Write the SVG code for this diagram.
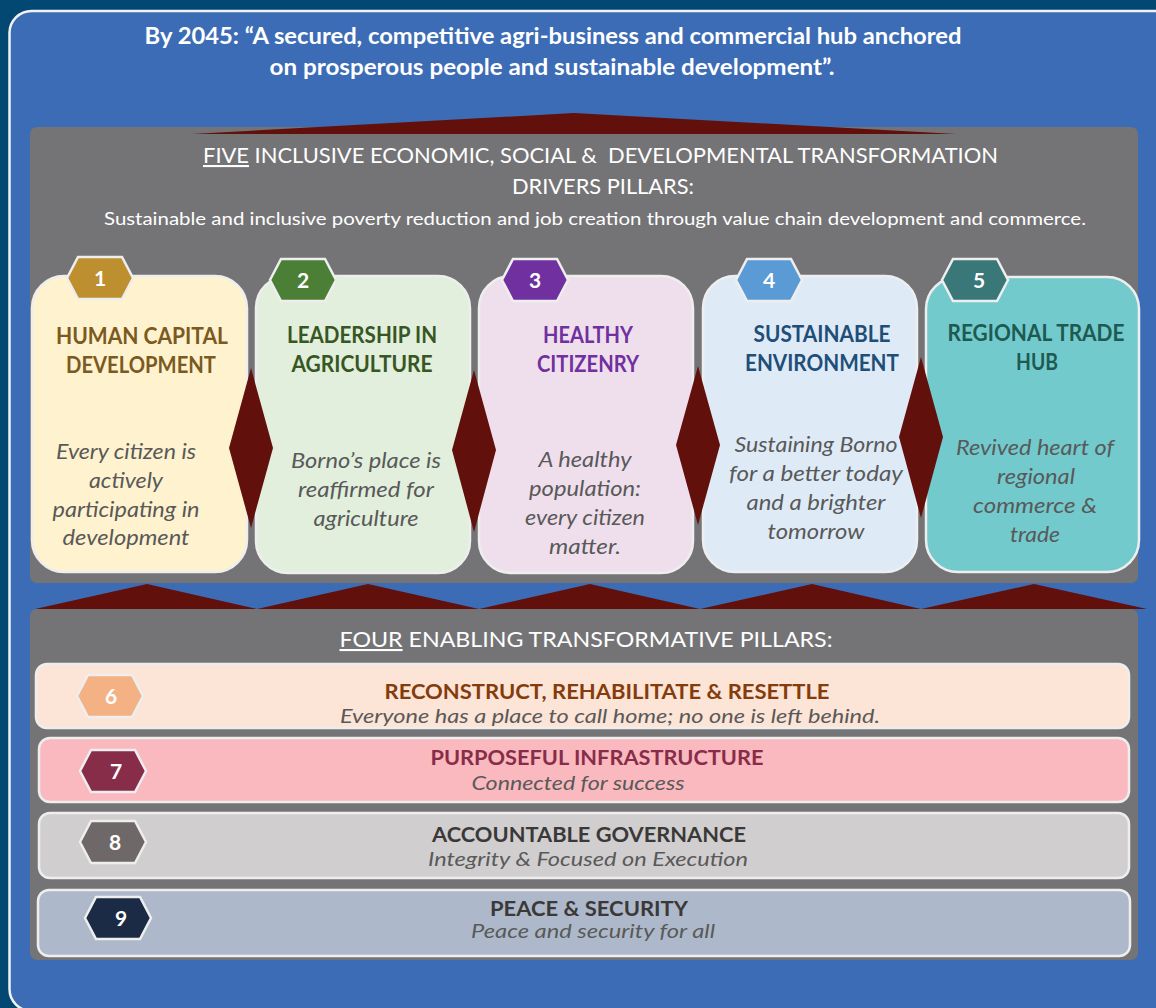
<svg xmlns="http://www.w3.org/2000/svg" width="1156" height="1008" viewBox="0 0 1156 1008">
  <defs>
    <style>
      .vision { font-family: Lato, "Open Sans", "Liberation Sans", sans-serif; font-size: 22px; font-weight: 700; fill: #ffffff; text-anchor: middle; }
      .head { font-family: Lato, "Open Sans", "Liberation Sans", sans-serif; font-size: 21px; fill: #ffffff; }
      .sub { font-family: Lato, "Open Sans", "Liberation Sans", sans-serif; font-size: 17px; fill: #ffffff; text-anchor: middle; }
      .panel { fill: #747476; }
      .card { stroke: #eeeeee; stroke-width: 2.5; }
      .ptitle { font-family: Lato, "Open Sans", "Liberation Sans", sans-serif; font-size: 22px; font-weight: 700; text-anchor: middle; }
      .pdesc { font-family: Lato, "Open Sans", "Liberation Sans", sans-serif; font-size: 21px; font-style: italic; fill: #595959; text-anchor: middle; }
      .hex { stroke: #eeeeee; stroke-width: 2.5; }
      .num { font-family: Lato, "Open Sans", "Liberation Sans", sans-serif; font-size: 21px; font-weight: 700; fill: #ffffff; text-anchor: middle; }
      .row { stroke: #eeeeee; stroke-width: 2.5; }
      .rtitle { font-family: Lato, "Open Sans", "Liberation Sans", sans-serif; font-size: 21px; font-weight: 700; text-anchor: middle; }
      .rdesc { font-family: Lato, "Open Sans", "Liberation Sans", sans-serif; font-size: 20px; font-style: italic; fill: #595959; text-anchor: middle; }
      .joint { fill: #62100c; }
      .u { text-decoration: underline; }
    </style>
    <!-- hexagon badge, centred on 0,0 -->
    <polygon id="hexshape" points="-33,0 -22,-21 22,-21 33,0 22,21 -22,21"/>
  </defs>

  <!-- page background and framed board -->
  <rect x="0" y="0" width="1156" height="1008" fill="#024872"/>
  <rect x="9.5" y="11" width="1175" height="1000" rx="22" fill="#3c6cb5" stroke="#f2f2f2" stroke-width="2.5"/>

  <!-- vision statement -->
  <g id="vision">
    <text class="vision" x="553" y="44" textLength="817" lengthAdjust="spacingAndGlyphs">By 2045: “A secured, competitive agri-business and commercial hub anchored</text>
    <text class="vision" x="552" y="75" textLength="565" lengthAdjust="spacingAndGlyphs">on prosperous people and sustainable development”.</text>
  </g>

  <!-- upper panel: driver pillars -->
  <g id="drivers-panel">
    <rect class="panel" x="30" y="127" width="1108" height="456" rx="7"/>
    <polygon class="joint" points="192,134 574,113 956,134"/>
    <text class="head" x="203" y="163" textLength="795" lengthAdjust="spacingAndGlyphs" xml:space="preserve"><tspan class="u">FIVE</tspan> INCLUSIVE ECONOMIC, SOCIAL &amp;  DEVELOPMENTAL TRANSFORMATION</text>
    <text class="head" x="603" y="194" text-anchor="middle" textLength="182" lengthAdjust="spacingAndGlyphs">DRIVERS PILLARS:</text>
    <text class="sub" x="595" y="225" textLength="982" lengthAdjust="spacingAndGlyphs">Sustainable and inclusive poverty reduction and job creation through value chain development and commerce.</text>
  </g>

  <g id="pillar-1">
    <rect class="card" x="32" y="276" width="215" height="296" rx="32" fill="#fff2cf"/>
    <use href="#hexshape" class="hex" x="100" y="278" fill="#bd8f2e"/>
    <text class="num" x="100" y="286">1</text>
    <text class="ptitle" fill="#7a5a20" x="142" y="344" textLength="172" lengthAdjust="spacingAndGlyphs">HUMAN CAPITAL</text>
    <text class="ptitle" fill="#7a5a20" x="141" y="373" textLength="150" lengthAdjust="spacingAndGlyphs">DEVELOPMENT</text>
    <text class="pdesc" x="126" y="459" textLength="140" lengthAdjust="spacingAndGlyphs">Every citizen is</text>
    <text class="pdesc" x="126" y="488" textLength="74" lengthAdjust="spacingAndGlyphs">actively</text>
    <text class="pdesc" x="126" y="517" textLength="147" lengthAdjust="spacingAndGlyphs">participating in</text>
    <text class="pdesc" x="126" y="545" textLength="127" lengthAdjust="spacingAndGlyphs">development</text>
  </g>

  <g id="pillar-2">
    <rect class="card" x="256" y="276" width="214" height="297" rx="32" fill="#e1efdc"/>
    <use href="#hexshape" class="hex" x="303" y="280" fill="#4b7f36"/>
    <text class="num" x="303" y="288">2</text>
    <text class="ptitle" fill="#375623" x="362" y="343" textLength="150" lengthAdjust="spacingAndGlyphs">LEADERSHIP IN</text>
    <text class="ptitle" fill="#375623" x="362" y="372" textLength="141" lengthAdjust="spacingAndGlyphs">AGRICULTURE</text>
    <text class="pdesc" x="366" y="468" textLength="150" lengthAdjust="spacingAndGlyphs">Borno’s place is</text>
    <text class="pdesc" x="366" y="497" textLength="136" lengthAdjust="spacingAndGlyphs">reaffirmed for</text>
    <text class="pdesc" x="366" y="526" textLength="105" lengthAdjust="spacingAndGlyphs">agriculture</text>
  </g>

  <g id="pillar-3">
    <rect class="card" x="479" y="276" width="214" height="297" rx="32" fill="#efdfed"/>
    <use href="#hexshape" class="hex" x="535" y="280" fill="#7030a0"/>
    <text class="num" x="535" y="288">3</text>
    <text class="ptitle" fill="#7030a0" x="588" y="343" textLength="90" lengthAdjust="spacingAndGlyphs">HEALTHY</text>
    <text class="ptitle" fill="#7030a0" x="588" y="372" textLength="102" lengthAdjust="spacingAndGlyphs">CITIZENRY</text>
    <text class="pdesc" x="585" y="467" textLength="93" lengthAdjust="spacingAndGlyphs">A healthy</text>
    <text class="pdesc" x="585" y="496" textLength="112" lengthAdjust="spacingAndGlyphs">population:</text>
    <text class="pdesc" x="585" y="525" textLength="120" lengthAdjust="spacingAndGlyphs">every citizen</text>
    <text class="pdesc" x="585" y="554" textLength="72" lengthAdjust="spacingAndGlyphs">matter.</text>
  </g>

  <g id="pillar-4">
    <rect class="card" x="703" y="276" width="214" height="296" rx="32" fill="#deebf7"/>
    <use href="#hexshape" class="hex" x="769" y="280" fill="#5b9bd5"/>
    <text class="num" x="769" y="288">4</text>
    <text class="ptitle" fill="#1f4e79" x="822" y="342" textLength="137" lengthAdjust="spacingAndGlyphs">SUSTAINABLE</text>
    <text class="ptitle" fill="#1f4e79" x="822" y="371" textLength="154" lengthAdjust="spacingAndGlyphs">ENVIRONMENT</text>
    <text class="pdesc" x="816" y="452" textLength="163" lengthAdjust="spacingAndGlyphs">Sustaining Borno</text>
    <text class="pdesc" x="816" y="481" textLength="174" lengthAdjust="spacingAndGlyphs">for a better today</text>
    <text class="pdesc" x="816" y="510" textLength="139" lengthAdjust="spacingAndGlyphs">and a brighter</text>
    <text class="pdesc" x="816" y="539" textLength="97" lengthAdjust="spacingAndGlyphs">tomorrow</text>
  </g>

  <g id="pillar-5">
    <rect class="card" x="926" y="277" width="213" height="295" rx="32" fill="#72cacd"/>
    <use href="#hexshape" class="hex" x="975" y="280" fill="#3a7778"/>
    <text class="num" x="979" y="288">5</text>
    <text class="ptitle" fill="#1f5a52" x="1036" y="341" textLength="177" lengthAdjust="spacingAndGlyphs">REGIONAL TRADE</text>
    <text class="ptitle" fill="#1f5a52" x="1037" y="370" textLength="42" lengthAdjust="spacingAndGlyphs">HUB</text>
    <text class="pdesc" x="1035" y="455" textLength="158" lengthAdjust="spacingAndGlyphs">Revived heart of</text>
    <text class="pdesc" x="1036" y="484" textLength="78" lengthAdjust="spacingAndGlyphs">regional</text>
    <text class="pdesc" x="1035" y="513" textLength="124" lengthAdjust="spacingAndGlyphs">commerce &amp;</text>
    <text class="pdesc" x="1035" y="542" textLength="50" lengthAdjust="spacingAndGlyphs">trade</text>
  </g>

  <!-- joints between pillars and the band joining the two panels -->
  <g id="links">
    <polygon class="joint" points="251,368 273,448 251,528 229,448"/>
    <polygon class="joint" points="474,370 496,450 474,532 452,450"/>
    <polygon class="joint" points="698,366 720,445 698,525 676,445"/>
    <polygon class="joint" points="921,357 943,437 921,518 899,437"/>
    <polygon class="joint" points="35,609 147,584 257,609 368,584 479,609 590,584 700,609 812,584 921,609 1034,584 1147,609"/>
  </g>

  <!-- lower panel: enabling pillars -->
  <g id="enablers-panel">
    <rect class="panel" x="30" y="609" width="1108" height="351" rx="7"/>
    <text class="head" x="586" y="647" text-anchor="middle" textLength="493" lengthAdjust="spacingAndGlyphs"><tspan class="u">FOUR</tspan> ENABLING TRANSFORMATIVE PILLARS:</text>
  </g>

  <g id="pillar-6">
    <rect class="row" x="36" y="664" width="1093" height="64" rx="11" fill="#fce4d6"/>
    <use href="#hexshape" class="hex" x="110" y="696" fill="#f4b183"/>
    <text class="num" x="111" y="704">6</text>
    <text class="rtitle" fill="#843c0c" x="607" y="699" font-size="20" textLength="445" lengthAdjust="spacingAndGlyphs">RECONSTRUCT, REHABILITATE &amp; RESETTLE</text>
    <text class="rdesc" x="610" y="723" font-size="19" textLength="540" lengthAdjust="spacingAndGlyphs">Everyone has a place to call home; no one is left behind.</text>
  </g>

  <g id="pillar-7">
    <rect class="row" x="39" y="738" width="1090" height="64" rx="11" fill="#f9b9be"/>
    <use href="#hexshape" class="hex" x="113" y="771" fill="#882d49"/>
    <text class="num" x="116" y="779">7</text>
    <text class="rtitle" fill="#882d49" x="597" y="765" textLength="333" lengthAdjust="spacingAndGlyphs">PURPOSEFUL INFRASTRUCTURE</text>
    <text class="rdesc" x="578" y="790" textLength="213" lengthAdjust="spacingAndGlyphs">Connected for success</text>
  </g>

  <g id="pillar-8">
    <rect class="row" x="39" y="813" width="1090" height="65" rx="11" fill="#d0cece"/>
    <use href="#hexshape" class="hex" x="113" y="842" fill="#6f6868"/>
    <text class="num" x="115" y="850">8</text>
    <text class="rtitle" fill="#3b3838" x="589" y="842" textLength="314" lengthAdjust="spacingAndGlyphs">ACCOUNTABLE GOVERNANCE</text>
    <text class="rdesc" x="588" y="866" textLength="320" lengthAdjust="spacingAndGlyphs">Integrity &amp; Focused on Execution</text>
  </g>

  <g id="pillar-9">
    <rect class="row" x="38" y="890" width="1092" height="66" rx="11" fill="#adb9ca"/>
    <use href="#hexshape" class="hex" x="118" y="918" fill="#1b2b45"/>
    <text class="num" x="121" y="926">9</text>
    <text class="rtitle" fill="#3b3838" x="589" y="916" textLength="198" lengthAdjust="spacingAndGlyphs">PEACE &amp; SECURITY</text>
    <text class="rdesc" x="593" y="938" textLength="244" lengthAdjust="spacingAndGlyphs">Peace and security for all</text>
  </g>
</svg>
